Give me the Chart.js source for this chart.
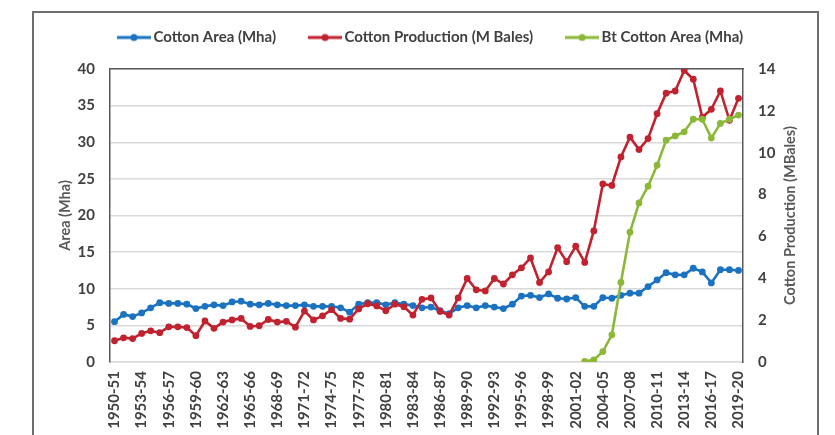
<!DOCTYPE html>
<html>
<head>
<meta charset="utf-8">
<script src="https://cdn.jsdelivr.net/npm/chart.js@4"></script>
<style>
html,body{margin:0;padding:0;background:#fff;}
#wrap{width:835px;height:435px;}
</style>
</head>
<body>
<div id="wrap"><canvas id="c" width="835" height="435"></canvas></div>
<script>
const categories = [
  '1950-51','1951-52','1952-53','1953-54','1954-55','1955-56','1956-57','1957-58','1958-59','1959-60',
  '1960-61','1961-62','1962-63','1963-64','1964-65','1965-66','1966-67','1967-68','1968-69','1969-70',
  '1970-71','1971-72','1972-73','1973-74','1974-75','1975-76','1976-77','1977-78','1978-79','1979-80',
  '1980-81','1981-82','1982-83','1983-84','1984-85','1985-86','1986-87','1987-88','1988-89','1989-90',
  '1990-91','1991-92','1992-93','1993-94','1994-95','1995-96','1996-97','1997-98','1998-99','1999-00',
  '2000-01','2001-02','2002-03','2003-04','2004-05','2005-06','2006-07','2007-08','2008-09','2009-10',
  '2010-11','2011-12','2012-13','2013-14','2014-15','2015-16','2016-17','2017-18','2018-19','2019-20'
];

// Cotton area, million hectares (left axis)
const cottonArea = [
  5.5, 6.5, 6.2, 6.7, 7.4, 8.1, 8.0, 8.0, 7.9, 7.3,
  7.6, 7.8, 7.7, 8.2, 8.3, 7.9, 7.8, 8.0, 7.8, 7.7,
  7.7, 7.8, 7.6, 7.6, 7.6, 7.4, 6.8, 7.9, 8.1, 8.1,
  7.8, 8.1, 7.9, 7.7, 7.4, 7.5, 7.0, 6.6, 7.4, 7.7,
  7.4, 7.7, 7.5, 7.3, 7.9, 9.0, 9.1, 8.8, 9.3, 8.7,
  8.6, 8.8, 7.6, 7.6, 8.8, 8.7, 9.1, 9.4, 9.4, 10.3,
  11.2, 12.2, 11.9, 11.9, 12.8, 12.3, 10.8, 12.6, 12.6, 12.5
];

// Cotton production, million bales (drawn against the 0-40 scale)
const cottonProduction = [
  2.9, 3.3, 3.2, 3.9, 4.25, 4.0, 4.8, 4.8, 4.7, 3.6,
  5.6, 4.6, 5.45, 5.75, 5.95, 4.85, 4.95, 5.8, 5.45, 5.55,
  4.75, 6.95, 5.75, 6.3, 7.15, 5.95, 5.85, 7.25, 7.95, 7.65,
  7.0, 7.9, 7.55, 6.4, 8.55, 8.75, 6.9, 6.4, 8.75, 11.4,
  9.85, 9.7, 11.4, 10.65, 11.9, 12.85, 14.2, 10.85, 12.3, 15.6,
  13.7, 15.8, 13.6, 17.9, 24.3, 24.1, 28.0, 30.7, 29.0, 30.5,
  33.9, 36.7, 37.0, 39.8, 38.6, 33.4, 34.5, 37.0, 33.0, 36.0
];

// Bt cotton area, million hectares (right axis)
const btCottonArea = [
  null, null, null, null, null, null, null, null, null, null,
  null, null, null, null, null, null, null, null, null, null,
  null, null, null, null, null, null, null, null, null, null,
  null, null, null, null, null, null, null, null, null, null,
  null, null, null, null, null, null, null, null, null, null,
  null, null, 0.03, 0.1, 0.5, 1.3, 3.8, 6.2, 7.6, 8.4,
  9.4, 10.6, 10.8, 11.0, 11.6, 11.6, 10.7, 11.4, 11.6, 11.8
];

const seriesNames = ['Cotton Area (Mha)', 'Cotton Production (M Bales)', 'Bt Cotton Area (Mha)'];
const seriesColors = ['#1a72c0', '#c0232f', '#8cb83a'];

function legendIcon(color) {
  const c = document.createElement('canvas');
  c.width = 34; c.height = 10;
  const g = c.getContext('2d');
  g.strokeStyle = color; g.lineWidth = 3;
  g.beginPath(); g.moveTo(0, 5); g.lineTo(34, 5); g.stroke();
  g.fillStyle = color;
  g.beginPath(); g.arc(17, 5, 3.5, 0, Math.PI * 2); g.fill();
  return c;
}
const icons = seriesColors.map(legendIcon);

const FONT = 'Lato';
const TICK_FONT = { family: FONT, size: 15, weight: 'bold' };

const decor = {
  id: 'decor',
  beforeDraw(chart) {
    const ctx = chart.ctx;
    ctx.save();
    ctx.fillStyle = '#ffffff';
    ctx.fillRect(0, 0, chart.width, chart.height);
    ctx.strokeStyle = '#6e6e6e';
    ctx.lineWidth = 2;
    ctx.strokeRect(33, 12, 785, 450);
    ctx.restore();
  },
  afterDraw(chart) {
    const ctx = chart.ctx;
    const a = chart.chartArea;
    const cy = (a.top + a.bottom) / 2;
    ctx.save();
    ctx.font = 'bold 14.5px ' + FONT;
    ctx.fillStyle = '#595959';
    ctx.textAlign = 'center';
    ctx.textBaseline = 'middle';
    ctx.save();
    ctx.translate(a.left - 45, cy);
    ctx.rotate(-Math.PI / 2);
    ctx.fillText('Area (Mha)', 0, 0);
    ctx.restore();
    ctx.save();
    ctx.translate(a.right + 47, cy);
    ctx.rotate(-Math.PI / 2);
    ctx.fillText('Cotton Production (MBales)', 0, 0);
    ctx.restore();
    ctx.restore();
  }
};

const makeSet = (i, data, axis, order) => ({
  label: seriesNames[i],
  data: data,
  yAxisID: axis,
  order: order,
  borderColor: seriesColors[i],
  backgroundColor: seriesColors[i],
  borderWidth: 2.6,
  pointRadius: 3.4,
  pointBorderWidth: 0,
  pointHoverRadius: 3.4,
  tension: 0,
  fill: false
});

new Chart(document.getElementById('c'), {
  type: 'line',
  data: {
    labels: categories,
    datasets: [
      makeSet(0, cottonArea, 'y', 3),
      makeSet(1, cottonProduction, 'y', 2),
      makeSet(2, btCottonArea, 'y1', 1)
    ]
  },
  options: {
    responsive: false,
    devicePixelRatio: 1,
    animation: false,
    layout: { padding: { left: 30, right: 0, top: -7, bottom: 0 } },
    plugins: {
      tooltip: { enabled: false },
      legend: {
        position: 'top',
        labels: {
          usePointStyle: true,
          pointStyleWidth: 24,
          padding: 37,
          color: '#404040',
          font: { family: FONT, size: 15, weight: 'bold' },
          generateLabels: (chart) => chart.data.datasets.map((ds, i) => ({
            text: ds.label,
            fillStyle: ds.borderColor,
            strokeStyle: ds.borderColor,
            lineWidth: 0,
            pointStyle: icons[i],
            hidden: !chart.isDatasetVisible(i),
            datasetIndex: i,
            fontColor: '#404040'
          }))
        }
      }
    },
    scales: {
      x: {
        type: 'category',
        offset: true,
        grid: { display: false, drawTicks: false },
        border: { display: true, color: '#d9d9d9', width: 1.5 },
        ticks: {
          autoSkip: false,
          minRotation: 90,
          maxRotation: 90,
          padding: 9,
          color: '#404040',
          font: TICK_FONT,
          callback: function (v, i) { return i % 3 === 0 ? categories[i] : ''; }
        },
        afterFit(s) { s.height = 73; }
      },
      x2: {
        type: 'category',
        position: 'top',
        labels: categories,
        offset: true,
        grid: { display: false, drawTicks: false },
        border: { display: true, color: '#5a5a5a', width: 1.5 },
        ticks: { display: false },
        afterFit(s) { s.height = 14; }
      },
      y: {
        position: 'left',
        min: 0,
        max: 40,
        ticks: {
          stepSize: 5,
          padding: 15,
          color: '#404040',
          font: TICK_FONT
        },
        grid: { color: '#d9d9d9', lineWidth: 1.5, drawTicks: false },
        border: { display: true, color: '#5a5a5a', width: 1.5 },
        afterFit(s) { s.width = 80; }
      },
      y1: {
        position: 'right',
        min: 0,
        max: 14,
        ticks: {
          stepSize: 2,
          padding: 15,
          color: '#404040',
          font: TICK_FONT
        },
        grid: { drawOnChartArea: false, drawTicks: false },
        border: { display: true, color: '#5a5a5a', width: 1.5 },
        afterFit(s) { s.width = 92; }
      }
    }
  },
  plugins: [decor]
});
</script>
</body>
</html>
